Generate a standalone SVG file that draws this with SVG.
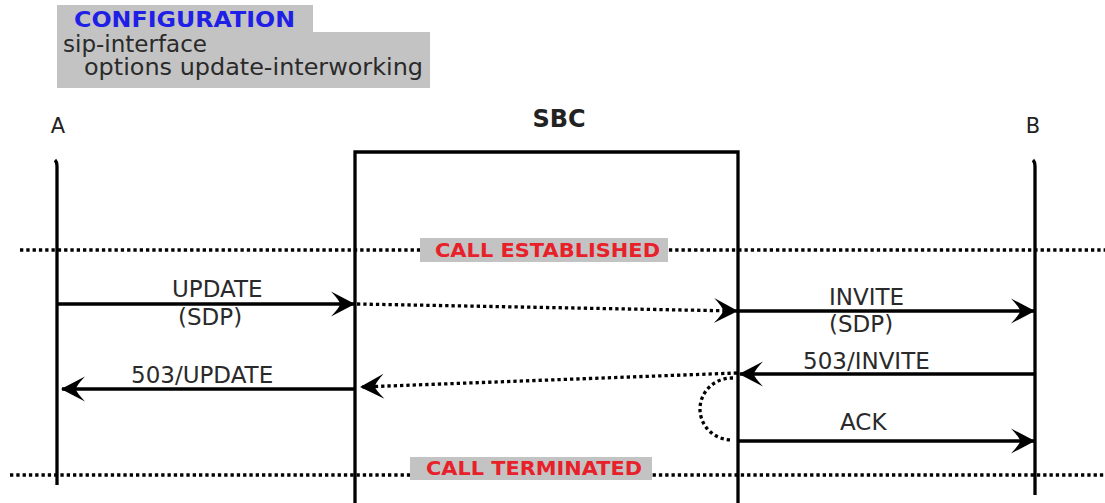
<svg xmlns="http://www.w3.org/2000/svg" width="1105" height="503" viewBox="0 0 1105 503">
<style>
.lbl{font-family:"DejaVu Sans",sans-serif;font-size:23px;fill:#2a2a2a}
.hdr{font-family:"DejaVu Sans",sans-serif;font-size:21px;fill:#222}
.band{font-family:"DejaVu Sans",sans-serif;font-size:20px;font-weight:bold;fill:#e8202a}
.gray{fill:#c3c3c3}
.life{stroke:#000;stroke-width:3.3;fill:none}
.solid{stroke:#000;stroke-width:3.5;fill:none}
.dot{stroke:#000;stroke-width:3.3;fill:none;stroke-dasharray:3.3 3}
</style>
<defs>
<marker id="ah" markerUnits="userSpaceOnUse" markerWidth="30" markerHeight="30" viewBox="-26 -14 30 28" refX="0" refY="0" orient="auto" overflow="visible">
<path d="M1,0 L-23,-12.5 Q-14,-3 -14,0 Q-14,3 -23,12.5 Z" fill="#000" stroke="none"/>
</marker>
</defs>
<g id="config">
<rect class="gray" x="57" y="5" width="256" height="27"/>
<rect class="gray" x="57" y="32" width="373" height="56"/>
<text x="74" y="27" font-family="DejaVu Sans, sans-serif" font-size="21" font-weight="bold" fill="#1f1fe6" textLength="221" lengthAdjust="spacingAndGlyphs">CONFIGURATION</text>
<text class="lbl" x="63" y="52" textLength="144" lengthAdjust="spacingAndGlyphs">sip-interface</text>
<text class="lbl" x="84" y="75" textLength="339" lengthAdjust="spacingAndGlyphs">options update-interworking</text>
</g>
<g id="A">
<text class="hdr" x="58" y="133" text-anchor="middle">A</text>
<path class="life" d="M55,160 Q57,162 57,166 V485"/>
</g>
<g id="SBC">
<text x="559" y="127" text-anchor="middle" font-family="DejaVu Sans, sans-serif" font-size="24" font-weight="bold" fill="#222">SBC</text>
<path class="life" d="M355,503 V152 H738 V503"/>
</g>
<g id="B">
<text class="hdr" x="1033" y="133" text-anchor="middle">B</text>
<path class="life" d="M1033,160 Q1035,162 1035,166 V495"/>
</g>
<g id="call-established">
<line class="dot" x1="20" y1="250" x2="1105" y2="250"/>
<rect class="gray" x="420" y="238" width="248" height="24"/>
<text class="band" x="435" y="257" textLength="225" lengthAdjust="spacingAndGlyphs">CALL ESTABLISHED</text>
</g>
<g id="call-terminated">
<line class="dot" x1="10" y1="475" x2="1105" y2="475"/>
<rect class="gray" x="410" y="457" width="242" height="23"/>
<text class="band" x="426" y="475" textLength="216" lengthAdjust="spacingAndGlyphs">CALL TERMINATED</text>
</g>
<g id="connectors">
<line class="solid" x1="57" y1="304" x2="354" y2="304" marker-end="url(#ah)"/>
<line class="dot" x1="357" y1="304" x2="737" y2="311" marker-end="url(#ah)"/>
<line class="solid" x1="738" y1="311" x2="1034" y2="311" marker-end="url(#ah)"/>
<line class="solid" x1="1035" y1="374" x2="740" y2="374" marker-end="url(#ah)"/>
<line class="dot" x1="737" y1="373" x2="361" y2="387" marker-end="url(#ah)"/>
<line class="solid" x1="355" y1="389" x2="62" y2="389" marker-end="url(#ah)"/>
<path class="dot" d="M733,378 A32,31 0 0 0 731,440"/>
<line class="solid" x1="738" y1="441" x2="1034" y2="441" marker-end="url(#ah)"/>
<text class="lbl" x="172" y="297">UPDATE</text>
<text class="lbl" x="178" y="325">(SDP)</text>
<text class="lbl" x="829" y="305">INVITE</text>
<text class="lbl" x="829" y="332">(SDP)</text>
<text class="lbl" x="803" y="369">503/INVITE</text>
<text class="lbl" x="131" y="383">503/UPDATE</text>
<text class="lbl" x="840" y="430">ACK</text>
</g>
</svg>
